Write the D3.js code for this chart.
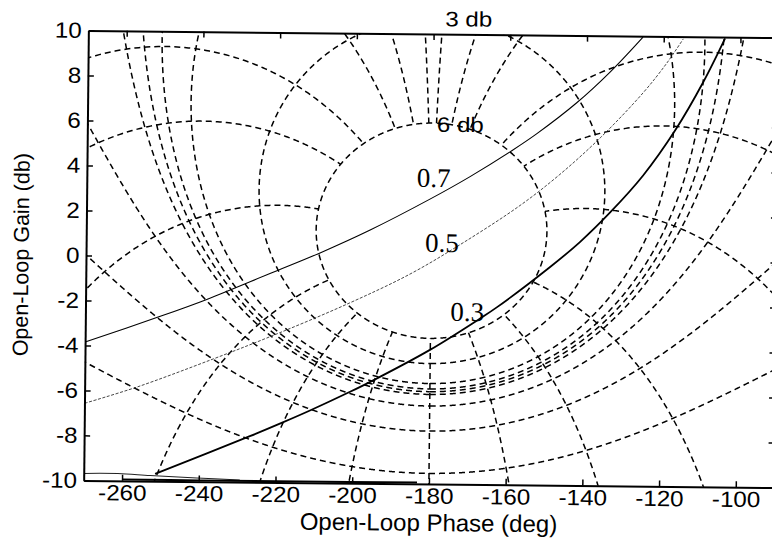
<!DOCTYPE html>
<html>
<head>
<meta charset="utf-8">
<script src="https://cdn.jsdelivr.net/npm/d3@7"></script>
<style>
  body { margin: 0; background: #fff; }
  svg { display: block; }
</style>
</head>
<body>
<script>
// Nichols grid levels (closed-loop gain in dB, closed-loop phase in deg)
var gainLevels = [6, 3, 1, 0.5, 0.25, 0, -1, -3, -6, -12, -20];
var phaseLevels = [-1, -5, -10, -20, -30, -50, -90, -120, -150, -180];

var xTicks = [-260, -240, -220, -200, -180, -160, -140, -120, -100];
var yTicks = [-10, -8, -6, -4, -2, 0, 2, 4, 6, 8, 10];

// open-loop curves: [phase deg, gain db]
var curve07 = [[-270, -3.85], [-251.4, -2.73], [-238.4, -1.9], [-222.0, -0.72], [-209.0, 0.22],
    [-196.0, 1.26], [-180.5, 2.66], [-170.1, 3.68], [-159.3, 4.85], [-152.8, 5.62],
    [-142.5, 7.01], [-133.9, 8.39], [-125.4, 9.96]];
var curve05 = [[-269.9, -6.57], [-256.4, -5.83], [-237.4, -4.6], [-221.0, -3.47], [-201.9, -2.05],
    [-185.5, -0.68], [-171.7, 0.74], [-157.0, 2.42], [-146.7, 3.82], [-136.3, 5.46],
    [-125.2, 7.49], [-119.2, 8.8], [-114.9, 9.9]];
var curve03 = [[-251.4, -9.68], [-226.8, -7.96], [-218.1, -7.32], [-211.2, -6.79], [-200.8, -5.94],
    [-194.8, -5.42], [-180.1, -4.04], [-167.1, -2.62], [-162.8, -2.12], [-149.0, -0.3],
    [-141.3, 0.82], [-133.5, 2.15], [-125.0, 3.81], [-116.8, 5.82], [-109.6, 7.98], [-104.0, 9.94]];
var lowA = [[-270, -9.69], [-261.1, -9.68], [-252.7, -9.75], [-240.5, -9.84], [-229.3, -9.91]];
var lowB = [[-260, -9.94], [-239.7, -9.95], [-213.6, -9.95], [-183.1, -9.94]];

var curveLabels = [
    {t: "0.7", x: -184.0, y: 3.2},
    {t: "0.5", x: -181.65, y: 0.32},
    {t: "0.3", x: -174.9, y: -2.74}
];
var gridLabels = [
    {t: "3 db", x: -177.0, y: 10.35},
    {t: "6 db", x: -178.9, y: 5.66}
];

var W = 772, H = 545;
var mLeft = 86, mRight = 776.5, mTop = 34, mBottom = 484;

var x = d3.scaleLinear().domain([-270, -90]).range([mLeft, mRight]);
var y = d3.scaleLinear().domain([-10, 10]).range([mBottom, mTop]);

var svg = d3.select("body").append("svg")
    .attr("width", W)
    .attr("height", H);

svg.append("rect").attr("width", W).attr("height", H).attr("fill", "#fff");

svg.append("defs").append("clipPath").attr("id", "plot")
    .append("rect")
    .attr("x", mLeft).attr("y", mTop)
    .attr("width", mRight - mLeft).attr("height", mBottom - mTop);

// the scan is slightly tilted
var root = svg.append("g")
    .attr("transform", "rotate(0.6," + (mLeft + mRight) / 2 + "," + (mTop + mBottom) / 2 + ")");

var plot = root.append("g").attr("clip-path", "url(#plot)");

// open loop point for closed loop magnitude m and phase th (deg)
function nichols(m, th) {
    var t = th * Math.PI / 180;
    var tr = m * Math.cos(t), ti = m * Math.sin(t);
    var dr = 1 - tr, di = -ti;
    var den = dr * dr + di * di;
    var gr = (tr * dr + ti * di) / den, gi = (ti * dr - tr * di) / den;
    var ph = Math.atan2(gi, gr) * 180 / Math.PI;
    if (ph > 0) ph -= 360;
    return [ph, 20 * Math.log10(Math.hypot(gr, gi))];
}

function splitSegs(pts) {
    var segs = [], cur = [];
    pts.forEach(function (p) {
        var prev = cur[cur.length - 1];
        if (!p || !isFinite(p[0]) || !isFinite(p[1]) || (prev && Math.abs(p[0] - prev[0]) > 180)) {
            if (cur.length > 1) segs.push(cur);
            cur = p && isFinite(p[1]) ? [p] : [];
        } else {
            cur.push(p);
        }
    });
    if (cur.length > 1) segs.push(cur);
    return segs;
}

var gridSegs = [];

gainLevels.forEach(function (db) {
    var m = Math.pow(10, db / 20), pts = [];
    for (var i = 0; i <= 2880; i++) {
        var th = -180 + i * 0.125;
        if (Math.abs(th) < 1e-9) { pts.push(null); continue; }
        pts.push(nichols(m, th));
    }
    gridSegs = gridSegs.concat(splitSegs(pts));
});

// phase lines stop at the 6 db gain line (|T| = 2)
var mMax = Math.pow(10, gainLevels[0] / 20);
phaseLevels.forEach(function (p) {
    [p, -p].forEach(function (th) {
        if (th === 180) return;
        var pts = [];
        for (var i = 0; i <= 1200; i++) {
            var m = Math.pow(10, -3 + i * (3 + Math.log10(mMax)) / 1200);
            pts.push(nichols(m, th));
        }
        gridSegs = gridSegs.concat(splitSegs(pts));
    });
});

// keep the dashed lines inside a sane range before clipping
gridSegs = gridSegs.map(function (s) {
    return s.map(function (p) { return [p[0], Math.max(-40, Math.min(40, p[1]))]; });
});

var line = d3.line()
    .x(function (d) { return x(d[0]); })
    .y(function (d) { return y(d[1]); });

plot.append("g")
    .selectAll("path")
    .data(gridSegs)
    .enter()
        .append("path")
        .attr("d", line)
        .attr("fill", "none")
        .attr("stroke", "#000")
        .attr("stroke-width", 1.5)
        .attr("stroke-dasharray", "6,4");

var smooth = d3.line()
    .x(function (d) { return x(d[0]); })
    .y(function (d) { return y(d[1]); })
    .curve(d3.curveCatmullRom.alpha(0.5));

var curves = [
    {d: curve07, w: 1.1, c: "#000", dash: null},
    {d: curve05, w: 0.9, c: "#333", dash: "3,1.6"},
    {d: curve03, w: 1.8, c: "#000", dash: null},
    {d: lowA, w: 1.0, c: "#222", dash: null},
    {d: lowB, w: 2.0, c: "#000", dash: null}
];

plot.append("g")
    .selectAll("path")
    .data(curves)
    .enter()
        .append("path")
        .attr("d", function (d) { return smooth(d.d); })
        .attr("fill", "none")
        .attr("stroke", function (d) { return d.c; })
        .attr("stroke-width", function (d) { return d.w; })
        .attr("stroke-dasharray", function (d) { return d.dash; });

// axes (box with inward ticks)
function fmt(d) { return String(d); }

function styleAxis(g) {
    g.select(".domain").attr("stroke", "#000").attr("stroke-width", 2);
    g.selectAll(".tick line").attr("stroke", "#000").attr("stroke-width", 1.5);
    g.selectAll(".tick text")
        .attr("fill", "#000")
        .style("font-family", "Liberation Sans, Arial, sans-serif")
        .style("font-size", "22px")
        .attr("transform", "scale(1.1,1)");
}

root.append("g")
    .attr("transform", "translate(0," + mBottom + ")")
    .call(d3.axisBottom(x).tickValues(xTicks).tickSize(-6).tickPadding(4).tickSizeOuter(0).tickFormat(fmt))
    .call(styleAxis);

root.append("g")
    .attr("transform", "translate(0," + mTop + ")")
    .call(d3.axisTop(x).tickValues(xTicks).tickSize(-6).tickSizeOuter(0).tickFormat(""))
    .call(styleAxis);

root.append("g")
    .attr("transform", "translate(" + mLeft + ",0)")
    .call(d3.axisLeft(y).tickValues(yTicks).tickSize(-6).tickPadding(6).tickSizeOuter(0).tickFormat(fmt))
    .call(styleAxis);

root.append("g")
    .attr("transform", "translate(" + mRight + ",0)")
    .call(d3.axisRight(y).tickValues(yTicks).tickSize(-6).tickSizeOuter(0).tickFormat(""))
    .call(styleAxis);

root.append("text")
    .attr("x", (mLeft + mRight) / 2)
    .attr("y", 531)
    .attr("text-anchor", "middle")
    .style("font-family", "Liberation Sans, Arial, sans-serif")
    .style("font-size", "24px")
    .text("Open-Loop Phase (deg)");

root.append("text")
    .attr("transform", "translate(28.5," + (mTop + mBottom) / 2 + ") rotate(-90)")
    .attr("text-anchor", "middle")
    .style("font-family", "Liberation Sans, Arial, sans-serif")
    .style("font-size", "21.5px")
    .text("Open-Loop Gain (db)");

root.append("g")
    .selectAll("text")
    .data(curveLabels)
    .enter()
        .append("text")
        .attr("x", function (d) { return x(d.x); })
        .attr("y", function (d) { return y(d.y); })
        .style("font-family", "Liberation Serif, Times New Roman, serif")
        .style("font-size", "27px")
        .text(function (d) { return d.t; });

root.append("g")
    .selectAll("text")
    .data(gridLabels)
    .enter()
        .append("text")
        .attr("transform", function (d) { return "translate(" + x(d.x) + "," + y(d.y) + ") scale(1.15,1)"; })
        .style("font-family", "Liberation Sans, Arial, sans-serif")
        .style("font-size", "21px")
        .text(function (d) { return d.t; });
</script>
</body>
</html>
